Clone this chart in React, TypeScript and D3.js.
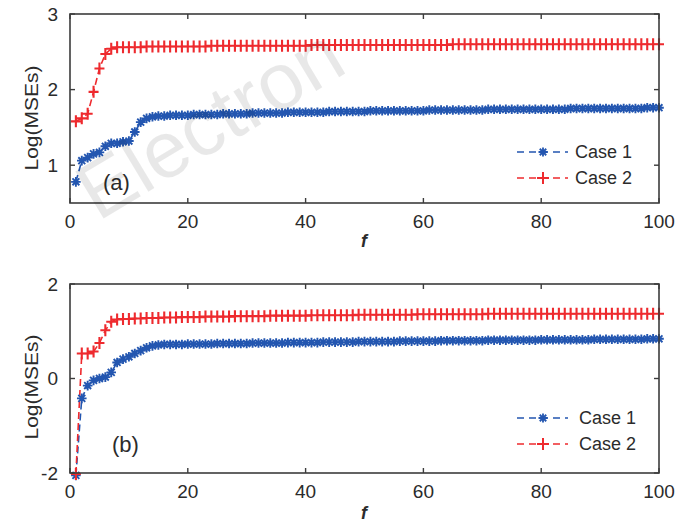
import React from "react";
import * as d3 from "d3";

// f values (x categories)
const fValues: number[] = d3.range(1, 101);

// Panel (a)
const caseA1: number[] = [
  0.78, 1.06, 1.10, 1.15, 1.17, 1.25, 1.29, 1.29, 1.31, 1.32,
  1.44, 1.57, 1.62, 1.64, 1.65, 1.65, 1.66, 1.66, 1.66, 1.66,
  1.67, 1.67, 1.67, 1.67, 1.67, 1.68, 1.68, 1.68, 1.68, 1.68,
  1.69, 1.69, 1.69, 1.69, 1.69, 1.69, 1.70, 1.70, 1.70, 1.70,
  1.70, 1.70, 1.70, 1.71, 1.71, 1.71, 1.71, 1.71, 1.71, 1.71,
  1.72, 1.72, 1.72, 1.72, 1.72, 1.72, 1.72, 1.72, 1.72, 1.72,
  1.73, 1.73, 1.73, 1.73, 1.73, 1.73, 1.73, 1.73, 1.73, 1.73,
  1.74, 1.74, 1.74, 1.74, 1.74, 1.74, 1.74, 1.74, 1.74, 1.74,
  1.74, 1.74, 1.74, 1.74, 1.75, 1.75, 1.75, 1.75, 1.75, 1.75,
  1.75, 1.75, 1.75, 1.75, 1.75, 1.75, 1.75, 1.76, 1.76, 1.76,
];
const caseA2: number[] = [
  1.58, 1.62, 1.68, 1.97, 2.28, 2.47, 2.54, 2.56, 2.56, 2.56,
  2.56, 2.56, 2.57, 2.57, 2.57, 2.57, 2.57, 2.57, 2.57, 2.57,
  2.57, 2.57, 2.57, 2.58, 2.58, 2.58, 2.58, 2.58, 2.58, 2.58,
  2.58, 2.58, 2.58, 2.58, 2.58, 2.58, 2.58, 2.58, 2.58, 2.58,
  2.59, 2.59, 2.59, 2.59, 2.59, 2.59, 2.59, 2.59, 2.59, 2.59,
  2.59, 2.59, 2.59, 2.59, 2.59, 2.59, 2.59, 2.59, 2.59, 2.59,
  2.59, 2.59, 2.59, 2.59, 2.60, 2.60, 2.60, 2.60, 2.60, 2.60,
  2.60, 2.60, 2.60, 2.60, 2.60, 2.60, 2.60, 2.60, 2.60, 2.60,
  2.60, 2.60, 2.60, 2.60, 2.60, 2.60, 2.60, 2.60, 2.60, 2.60,
  2.60, 2.60, 2.60, 2.60, 2.60, 2.60, 2.60, 2.60, 2.60, 2.60,
];

// Panel (b)
const caseB1: number[] = [
  -2.05, -0.42, -0.15, -0.04, 0.0, 0.03, 0.13, 0.34, 0.41, 0.46,
  0.53, 0.59, 0.65, 0.69, 0.71, 0.72, 0.72, 0.72, 0.72, 0.73,
  0.73, 0.73, 0.73, 0.73, 0.74, 0.74, 0.74, 0.74, 0.74, 0.74,
  0.75, 0.75, 0.75, 0.75, 0.75, 0.75, 0.76, 0.76, 0.76, 0.76,
  0.76, 0.76, 0.77, 0.77, 0.77, 0.77, 0.77, 0.77, 0.78, 0.78,
  0.78, 0.78, 0.78, 0.78, 0.78, 0.79, 0.79, 0.79, 0.79, 0.79,
  0.79, 0.79, 0.80, 0.80, 0.80, 0.80, 0.80, 0.80, 0.80, 0.80,
  0.81, 0.81, 0.81, 0.81, 0.81, 0.81, 0.81, 0.81, 0.81, 0.82,
  0.82, 0.82, 0.82, 0.82, 0.82, 0.82, 0.82, 0.82, 0.83, 0.83,
  0.83, 0.83, 0.83, 0.83, 0.83, 0.83, 0.83, 0.84, 0.84, 0.84,
];
const caseB2: number[] = [
  -2.02, 0.53, 0.53, 0.57, 0.75, 1.02, 1.20, 1.25, 1.26, 1.26,
  1.27, 1.27, 1.28, 1.28, 1.28, 1.29, 1.29, 1.29, 1.30, 1.30,
  1.30, 1.30, 1.31, 1.31, 1.31, 1.31, 1.31, 1.32, 1.32, 1.32,
  1.32, 1.32, 1.32, 1.33, 1.33, 1.33, 1.33, 1.33, 1.33, 1.33,
  1.34, 1.34, 1.34, 1.34, 1.34, 1.34, 1.34, 1.34, 1.35, 1.35,
  1.35, 1.35, 1.35, 1.35, 1.35, 1.35, 1.35, 1.35, 1.36, 1.36,
  1.36, 1.36, 1.36, 1.36, 1.36, 1.36, 1.36, 1.36, 1.36, 1.36,
  1.37, 1.37, 1.37, 1.37, 1.37, 1.37, 1.37, 1.37, 1.37, 1.37,
  1.37, 1.37, 1.37, 1.37, 1.37, 1.37, 1.37, 1.37, 1.37, 1.37,
  1.37, 1.37, 1.37, 1.37, 1.37, 1.37, 1.37, 1.37, 1.37, 1.37,
];

const xTicks: number[] = [0, 20, 40, 60, 80, 100];
const yTicksA: number[] = [1, 2, 3];
const yTicksB: number[] = [-2, 0, 2];
const seriesNames: string[] = ["Case 1", "Case 2"];

const BLUE = "#2356b0";
const RED = "#ee2a2e";
const AXIS = "#3c3c3c";
const TEXT = "#2b2b2b";
const FONT = "'Liberation Sans', Arial, sans-serif";

function starPath(x: number, y: number, r: number): string {
  const d = r * 0.72;
  return `M${x - r},${y}H${x + r}M${x},${y - r}V${y + r}M${x - d},${y - d}L${x + d},${y + d}M${x - d},${y + d}L${x + d},${y - d}`;
}
function plusPath(x: number, y: number, rx: number, ry: number): string {
  return `M${x - rx},${y}H${x + rx}M${x},${y - ry}V${y + ry}`;
}

type PanelProps = {
  top: number;
  bottom: number;
  yDomain: [number, number];
  yTicks: number[];
  s1: number[];
  s2: number[];
  tag: string;
  tagX: number;
  tagY: number;
  legendY: number;
  legendTextX: number;
  yLabelY: number;
  xLabelY: number;
};

const LEFT = 70;
const RIGHT = 659;

function Panel(p: PanelProps) {
  const x = d3.scaleLinear().domain([0, 100]).range([LEFT, RIGHT]);
  const y = d3.scaleLinear().domain(p.yDomain).range([p.bottom, p.top]);
  const line = (vals: number[]) =>
    d3
      .line<number>()
      .x((_, i) => x(fValues[i]))
      .y((v) => y(v))(vals) || "";
  const stars = p.s1.map((v, i) => starPath(x(fValues[i]), y(v), 4.8)).join("");
  const pluses = p.s2.map((v, i) => plusPath(x(fValues[i]), y(v), 5, 6)).join("");
  const tl = 5;
  return (
    <g>
      {/* data */}
      <path d={line(p.s1)} fill="none" stroke={BLUE} strokeWidth={1.6} strokeDasharray="7,4" />
      <path d={line(p.s2)} fill="none" stroke={RED} strokeWidth={1.6} strokeDasharray="7,4" />
      <path d={stars} fill="none" stroke={BLUE} strokeWidth={1.9} />
      <path d={pluses} fill="none" stroke={RED} strokeWidth={2.1} />
      {/* box */}
      <rect x={LEFT} y={p.top} width={RIGHT - LEFT} height={p.bottom - p.top} fill="none" stroke={AXIS} strokeWidth={1.6} />
      {xTicks.map((t) => (
        <g key={"x" + t}>
          <line x1={x(t)} x2={x(t)} y1={p.bottom} y2={p.bottom - tl} stroke={AXIS} strokeWidth={1.4} />
          <line x1={x(t)} x2={x(t)} y1={p.top} y2={p.top + tl} stroke={AXIS} strokeWidth={1.4} />
          <text x={x(t)} y={p.bottom + 25} textAnchor="middle" fontSize={19} fill={TEXT} fontFamily={FONT}>
            {t}
          </text>
        </g>
      ))}
      {p.yTicks.map((t) => (
        <g key={"y" + t}>
          <line x1={LEFT} x2={LEFT + tl} y1={y(t)} y2={y(t)} stroke={AXIS} strokeWidth={1.4} />
          <line x1={RIGHT} x2={RIGHT - tl} y1={y(t)} y2={y(t)} stroke={AXIS} strokeWidth={1.4} />
          <text x={58} y={y(t)} dy="0.36em" textAnchor="end" fontSize={19} fill={TEXT} fontFamily={FONT}>
            {t < 0 ? "-" + Math.abs(t) : t}
          </text>
        </g>
      ))}
      <text x={364} y={p.xLabelY} textAnchor="middle" fontSize={18} fontStyle="italic" fontWeight="bold" fill={TEXT} fontFamily={FONT}>
        f
      </text>
      <text
        transform={`translate(38,${p.yLabelY}) rotate(-90)`}
        textAnchor="middle"
        fontSize={18}
        fill={TEXT}
        fontFamily={FONT}
        textLength={105}
        lengthAdjust="spacingAndGlyphs"
      >
        Log(MSEs)
      </text>
      <text x={p.tagX} y={p.tagY} fontSize={22} fill={TEXT} fontFamily={FONT}>
        {p.tag}
      </text>
      {/* legend */}
      {seriesNames.map((name, i) => {
        const ly = p.legendY + i * 26;
        const color = i === 0 ? BLUE : RED;
        return (
          <g key={name}>
            <line x1={517} x2={568} y1={ly} y2={ly} stroke={color} strokeWidth={1.6} strokeDasharray="7,5" />
            <path
              d={i === 0 ? starPath(543, ly, 4.5) : plusPath(543, ly, 6, 6)}
              stroke={color}
              strokeWidth={i === 0 ? 1.8 : 2}
              fill="none"
            />
            <text x={p.legendTextX} y={ly} dy="0.36em" fontSize={18} fill={TEXT} fontFamily={FONT}>
              {name}
            </text>
          </g>
        );
      })}
    </g>
  );
}

export default function App() {
  return (
    <svg
      width={682}
      height={526}
      viewBox="0 0 682 526"
      style={{ position: "absolute", left: 0, top: 0, background: "#fff" }}
    >
      <rect x={0} y={0} width={682} height={526} fill="#fff" />
      <Panel
        top={14}
        bottom={203}
        yDomain={[0.5, 3]}
        yTicks={yTicksA}
        s1={caseA1}
        s2={caseA2}
        tag="(a)"
        tagX={103}
        tagY={190}
        legendY={152}
        legendTextX={575}
        yLabelY={118}
        xLabelY={247}
      />
      <Panel
        top={284}
        bottom={473}
        yDomain={[-2, 2]}
        yTicks={yTicksB}
        s1={caseB1}
        s2={caseB2}
        tag="(b)"
        tagX={112}
        tagY={452}
        legendY={418}
        legendTextX={579}
        yLabelY={387}
        xLabelY={519}
      />
      {/* watermark (visible part only) */}
      <text
        transform="translate(98,222) rotate(-31)"
        fill="#000"
        fillOpacity={0.09}
        fontFamily={FONT}
        fontSize={80}
      >
        Electron
      </text>
    </svg>
  );
}
